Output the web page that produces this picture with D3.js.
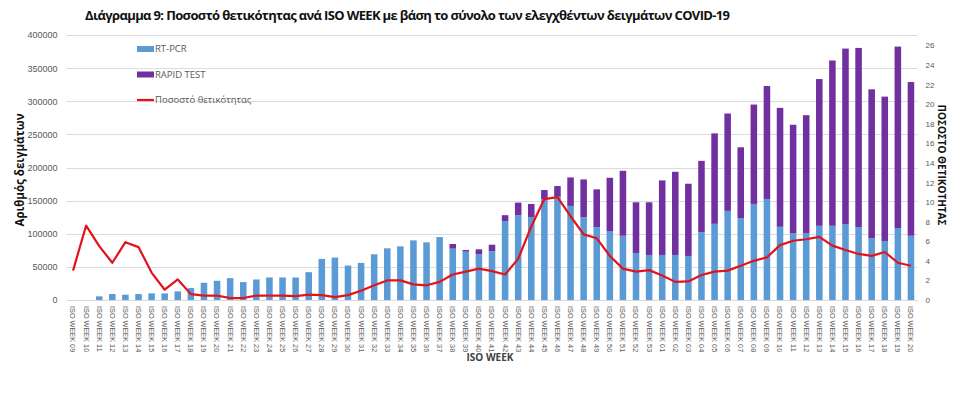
<!DOCTYPE html>
<html>
<head>
<meta charset="utf-8">
<script src="https://cdn.jsdelivr.net/npm/d3@7"></script>
<style>
  body { margin: 0; background: #fff; }
  svg { font-family: "Open Sans", "DejaVu Sans", sans-serif; }
</style>
</head>
<body>
<svg id="chart" width="960" height="398"></svg>
<script>
// weeks 09..53 of 2020, then 01..20 of 2021
var weeks = [
  "09","10","11","12","13","14","15","16","17","18","19","20","21","22","23",
  "24","25","26","27","28","29","30","31","32","33","34","35","36","37","38",
  "39","40","41","42","43","44","45","46","47","48","49","50","51","52","53",
  "01","02","03","04","05","06","07","08","09","10","11","12","13","14","15",
  "16","17","18","19","20"
];

var rtPcr = [
  0, 0, 5500, 9000, 8000, 9000, 10000, 10000, 13000, 18000, 26000, 29000, 33000, 27000, 31000,
  34000, 34000, 34000, 42000, 62000, 64000, 52000, 56000, 69000, 78000, 81000, 90000, 87000, 95000, 77500,
  73000, 69000, 73500, 119000, 128000, 125000, 152000, 156000, 142000, 125000, 110000, 103500, 97000, 71000, 68000,
  68000, 68000, 66500, 102500, 115000, 134500, 123500, 145000, 152500, 110500, 101000, 100500, 112000, 112000, 114500,
  110000, 93000, 89000, 108500, 97000
];

var rapidTest = [
  0, 0, 0, 0, 0, 0, 0, 0, 0, 0, 0, 0, 0, 0, 0,
  0, 0, 0, 0, 0, 0, 0, 0, 0, 0, 0, 0, 0, 0, 7000,
  2500, 7500, 10000, 9000, 19000, 20000, 14000, 16000, 43000, 57000, 57000, 81000, 98000, 76500, 79500,
  112500, 125500, 109000, 107500, 136500, 147000, 107000, 150000, 170500, 179500, 163500, 178500, 221500, 249500, 265000,
  270500, 225000, 218000, 274000, 232000
];

var positivity = [
  3.0, 7.6, 5.5, 3.8, 5.9, 5.4, 2.8, 1.05, 2.1, 0.6, 0.45, 0.45, 0.2, 0.2, 0.45,
  0.45, 0.45, 0.4, 0.55, 0.5, 0.3, 0.5, 0.95, 1.5, 2.0, 2.0, 1.6, 1.5, 1.85, 2.6,
  2.9, 3.2, 2.95, 2.6, 4.2, 7.5, 10.3, 10.5, 8.55, 6.7, 6.3, 4.5, 3.2, 2.9, 3.05,
  2.5, 1.85, 1.9, 2.55, 2.9, 3.0, 3.5, 4.0, 4.35, 5.6, 6.05, 6.2, 6.45, 5.55, 5.1,
  4.7, 4.5, 4.9, 3.8, 3.5
];

var leftTicks = [0, 50000, 100000, 150000, 200000, 250000, 300000, 350000, 400000];
var rightTicks = [0, 2, 4, 6, 8, 10, 12, 14, 16, 18, 20, 22, 24, 26];

var legendItems = [
  {label: "RT-PCR", type: "bar", color: "#5b9bd5"},
  {label: "RAPID TEST", type: "bar", color: "#7030a0"},
  {label: "Ποσοστό θετικότητας", type: "line", color: "#e3121b"}
];

var colPcr = "#5b9bd5", colRapid = "#7030a0", colLine = "#e3121b";

var rows = weeks.map(function(w, i) {
  return {label: "ISO WEEK " + w, pcr: rtPcr[i], rapid: rapidTest[i], pos: positivity[i]};
});

var svg = d3.select("#chart");
// plot area (note: "top" is taken by window.top, so use a prefix)
var plotLeft = 66.5, plotRight = 917.5, plotTop = 35, plotBottom = 300;

var x = d3.scaleBand()
  .domain(rows.map(function(d, i) { return i; }))
  .range([plotLeft, plotRight])
  .paddingInner(0.5)
  .paddingOuter(0.25);

var y = d3.scaleLinear().domain([0, 400000]).range([plotBottom, plotTop]);
var y2 = d3.scaleLinear().domain([0, 27.05]).range([plotBottom, plotTop]);

// gridlines
svg.append("g")
  .selectAll("line")
  .data(leftTicks.slice(1))
  .join("line")
  .attr("x1", plotLeft).attr("x2", plotRight)
  .attr("y1", function(d) { return Math.round(y(d)) + 0.5; })
  .attr("y2", function(d) { return Math.round(y(d)) + 0.5; })
  .attr("stroke", "#dcdcdc")
  .attr("stroke-width", 1);

// left axis labels, plain numbers without separators
var yAxis = d3.axisLeft(y).tickValues(leftTicks).tickFormat(d3.format("d")).tickSize(0).tickPadding(9);
svg.append("g")
  .attr("transform", "translate(" + plotLeft + ",0)")
  .call(yAxis)
  .call(function(g) { g.select(".domain").remove(); })
  .selectAll("text")
  .attr("fill", "#595959")
  .style("font-size", "9px");

// right axis labels
var y2Axis = d3.axisRight(y2).tickValues(rightTicks).tickSize(0).tickPadding(8);
svg.append("g")
  .attr("transform", "translate(" + plotRight + ",0)")
  .call(y2Axis)
  .call(function(g) { g.select(".domain").remove(); })
  .selectAll("text")
  .attr("fill", "#595959")
  .style("font-size", "8px");

// stacked bars
var bw = x.bandwidth();
svg.append("g")
  .selectAll("rect")
  .data(rows)
  .join("rect")
  .attr("x", function(d, i) { return x(i); })
  .attr("width", bw)
  .attr("y", function(d) { return y(d.pcr); })
  .attr("height", function(d) { return plotBottom - y(d.pcr); })
  .attr("fill", colPcr);

svg.append("g")
  .selectAll("rect")
  .data(rows)
  .join("rect")
  .attr("x", function(d, i) { return x(i); })
  .attr("width", bw)
  .attr("y", function(d) { return y(d.pcr + d.rapid); })
  .attr("height", function(d) { return y(d.pcr) - y(d.pcr + d.rapid); })
  .attr("fill", colRapid);

// positivity line
var line = d3.line()
  .x(function(d, i) { return x(i) + bw / 2; })
  .y(function(d) { return y2(d.pos); });

svg.append("path")
  .datum(rows)
  .attr("fill", "none")
  .attr("stroke", colLine)
  .attr("stroke-width", 2.2)
  .attr("stroke-linejoin", "round")
  .attr("d", line);

// x labels, rotated
var xAxis = d3.axisBottom(x).tickSize(0).tickFormat(function(i) { return rows[i].label; });
svg.append("g")
  .attr("transform", "translate(0," + plotBottom + ")")
  .call(xAxis)
  .call(function(g) { g.select(".domain").attr("stroke", "#d9d9d9"); })
  .selectAll("text")
  .attr("transform", "rotate(90)")
  .attr("x", 6)
  .attr("y", 0)
  .attr("dy", "0.35em")
  .style("text-anchor", "start")
  .attr("fill", "#595959")
  .style("font-size", "7.3px");

// legend
var lg = svg.append("g").attr("transform", "translate(137,49)");
legendItems.forEach(function(it, i) {
  var g = lg.append("g").attr("transform", "translate(0," + (i * 25.5) + ")");
  if (it.type === "bar") {
    g.append("rect").attr("x", 0).attr("y", -3).attr("width", 17).attr("height", 6).attr("fill", it.color);
  } else {
    g.append("line").attr("x1", 0).attr("x2", 17).attr("y1", 0).attr("y2", 0)
      .attr("stroke", it.color).attr("stroke-width", 2.2);
  }
  g.append("text")
    .attr("x", 18).attr("y", 0).attr("dy", "0.35em")
    .attr("fill", "#595959")
    .style("font-size", "9.5px")
    .text(it.label);
});

// titles
svg.append("text")
  .attr("x", 85).attr("y", 20)
  .style("font-size", "13px").style("font-weight", "bold")
  .attr("fill", "#111")
  .attr("textLength", 645)
  .text("Διάγραμμα 9: Ποσοστό  θετικότητας ανά ISO WEEK με βάση το σύνολο των ελεγχθέντων δειγμάτων COVID-19");

svg.append("text")
  .attr("transform", "translate(24,170) rotate(-90)")
  .style("text-anchor", "middle")
  .style("font-size", "11.5px").style("font-weight", "bold")
  .attr("fill", "#111")
  .text("Αριθμός δειγμάτων");

svg.append("text")
  .attr("transform", "translate(938,165) rotate(90)")
  .style("text-anchor", "middle")
  .style("font-size", "10px").style("font-weight", "bold")
  .attr("fill", "#111")
  .text("ΠΟΣΟΣΤΟ ΘΕΤΙΚΟΤΗΤΑΣ");

svg.append("text")
  .attr("x", 490).attr("y", 361)
  .style("text-anchor", "middle")
  .style("font-size", "10px").style("font-weight", "bold")
  .attr("fill", "#404040")
  .text("ISO WEEK");
</script>
</body>
</html>
